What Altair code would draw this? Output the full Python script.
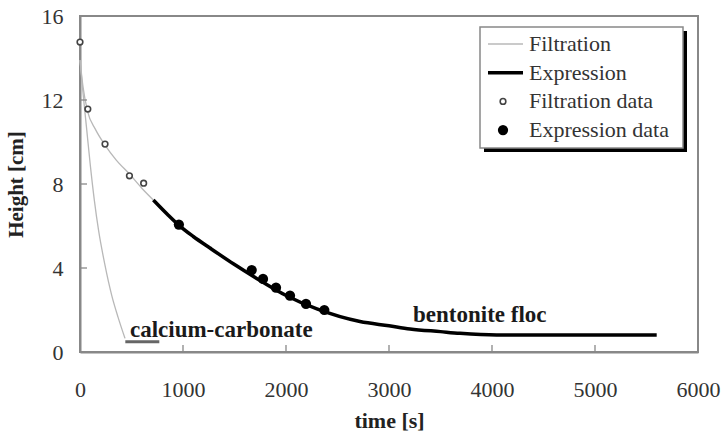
import altair as alt
import pandas as pd

# ---------------- data ----------------
# calcium-carbonate filtration model curve (thin grey)
caco3_filt_t = [0, 30, 65, 100, 140, 180, 240, 308, 370, 437]
caco3_filt_h = [13.9, 12.3, 10.6, 8.9, 7.2, 5.8, 4.2, 2.7, 1.65, 0.65]
# calcium-carbonate expression (short flat segment)
caco3_expr_t = [440, 770]
caco3_expr_h = [0.49, 0.49]
# bentonite floc filtration model curve (thin grey)
bent_filt_t = [0, 30, 74, 150, 243, 350, 485, 600, 712]
bent_filt_h = [13.9, 12.6, 11.45, 10.6, 9.85, 9.15, 8.45, 7.8, 7.24]
# bentonite floc expression model curve (thick black)
bent_expr_t = [712, 850, 964, 1100, 1262, 1489, 1700, 2006, 2300, 2718, 3000, 3204, 3500, 3689, 4045, 5599]
bent_expr_h = [7.24, 6.55, 6.02, 5.5, 4.95, 4.2, 3.55, 2.68, 2.05, 1.45, 1.25, 1.1, 0.97, 0.89, 0.81, 0.81]
# measured points
filt_data_t = [0, 76, 243, 480, 618]
filt_data_h = [14.76, 11.57, 9.9, 8.39, 8.04]
expr_data_t = [960, 1667, 1777, 1903, 2039, 2194, 2372]
expr_data_h = [6.07, 3.9, 3.48, 3.06, 2.68, 2.29, 2.0]

x_ticks = [0, 1000, 2000, 3000, 4000, 5000, 6000]
y_ticks = [0, 4, 8, 12, 16]
inner_x_ticks = [1000, 2000, 3000, 4000, 5000]
inner_y_ticks = [4, 8, 12]

anno_text = ["calcium-carbonate", "bentonite floc"]
anno_t = [485, 3233]
anno_h = [0.71, 1.44]

legend_labels = ["Filtration", "Expression", "Filtration data", "Expression data"]

# ---------------- chart ----------------
W, H = 618, 336
FONT = "Liberation Serif"
xs = alt.Scale(domain=[0, 6000], nice=False, zero=False)
ys = alt.Scale(domain=[0, 16], nice=False, zero=False)

def curve(t, h, name):
    return pd.DataFrame({"t": t, "h": h, "series": name})

filt_df = pd.concat([curve(caco3_filt_t, caco3_filt_h, "c"), curve(bent_filt_t, bent_filt_h, "b")])

x_axis = alt.Axis(values=x_ticks, ticks=False, grid=False, labelPadding=27, labelFlush=False,
                  labelOverlap=False, format="d", title="time [s]", titlePadding=10,
                  labelFont=FONT, titleFont=FONT)
y_axis = alt.Axis(values=y_ticks, ticks=False, grid=False, labelPadding=17, labelFlush=False,
                  labelOverlap=False, format="d", title="Height [cm]", titlePadding=15,
                  labelFont=FONT, titleFont=FONT, titleFontSize=21)

filt_lines = alt.Chart(filt_df).mark_line(color="#b8b8b8", strokeWidth=1.3, interpolate="monotone").encode(
    x=alt.X("t:Q", scale=xs, axis=x_axis),
    y=alt.Y("h:Q", scale=ys, axis=y_axis),
    detail="series:N",
)

caco3_expr = alt.Chart(curve(caco3_expr_t, caco3_expr_h, "ce")).mark_line(
    color="#666666", strokeWidth=3).encode(x=alt.X("t:Q", scale=xs), y=alt.Y("h:Q", scale=ys))

bent_expr = alt.Chart(curve(bent_expr_t, bent_expr_h, "be")).mark_line(
    color="black", strokeWidth=3.5, interpolate="monotone").encode(
    x=alt.X("t:Q", scale=xs), y=alt.Y("h:Q", scale=ys))

filt_pts = alt.Chart(pd.DataFrame({"t": filt_data_t, "h": filt_data_h})).mark_point(
    shape="circle", filled=False, size=32, stroke="#444444", strokeWidth=1.6, fill="white", fillOpacity=1,
    opacity=1).encode(x=alt.X("t:Q", scale=xs), y=alt.Y("h:Q", scale=ys))

expr_pts = alt.Chart(pd.DataFrame({"t": expr_data_t, "h": expr_data_h})).mark_point(
    shape="circle", filled=True, size=105, color="black", opacity=1).encode(
    x=alt.X("t:Q", scale=xs), y=alt.Y("h:Q", scale=ys))

annos = alt.Chart(pd.DataFrame({"t": anno_t, "h": anno_h, "txt": anno_text})).mark_text(
    align="left", baseline="alphabetic", font=FONT, fontWeight="bold", fontSize=23, color="#1a1a1a").encode(
    x=alt.X("t:Q", scale=xs), y=alt.Y("h:Q", scale=ys), text="txt:N")

# inward tick marks
xt = alt.Chart(pd.DataFrame({"t": inner_x_ticks})).mark_rule(color="#888888", strokeWidth=1.3).encode(
    x=alt.X("t:Q", scale=xs), y=alt.value(H), y2=alt.value(H - 7))
yt = alt.Chart(pd.DataFrame({"h": inner_y_ticks})).mark_rule(color="#888888", strokeWidth=1.3).encode(
    y=alt.Y("h:Q", scale=ys), x=alt.value(0), x2=alt.value(7))

# legend box
one = pd.DataFrame({"a": [0]})
LX0, LX1, LY0, LY1 = 400, 603, 11, 132
shadow = alt.Chart(one).mark_rect(color="black").encode(
    x=alt.value(LX0 + 4), x2=alt.value(LX1 + 4), y=alt.value(LY0 + 4), y2=alt.value(LY1 + 4))
box = alt.Chart(one).mark_rect(fill="white", stroke="#888888", strokeWidth=1.5).encode(
    x=alt.value(LX0), x2=alt.value(LX1), y=alt.value(LY0), y2=alt.value(LY1))

legend_layers = [shadow, box]
row_y = [28 + 28.7 * i for i in range(len(legend_labels))]
legend_layers.append(alt.Chart(one).mark_rule(color="#b8b8b8", strokeWidth=1.3).encode(
    x=alt.value(408), x2=alt.value(443), y=alt.value(row_y[0])))
legend_layers.append(alt.Chart(one).mark_rule(color="black", strokeWidth=3.5).encode(
    x=alt.value(408), x2=alt.value(443), y=alt.value(row_y[1])))
legend_layers.append(alt.Chart(one).mark_point(shape="circle", filled=False, size=32, stroke="#444444",
                                               strokeWidth=1.6, opacity=1).encode(
    x=alt.value(423), y=alt.value(row_y[2])))
legend_layers.append(alt.Chart(one).mark_point(shape="circle", filled=True, size=105, color="black",
                                               opacity=1).encode(
    x=alt.value(423), y=alt.value(row_y[3])))
for lab, yy in zip(legend_labels, row_y):
    legend_layers.append(alt.Chart(one).mark_text(
        align="left", baseline="middle", font=FONT, fontSize=22, color="#333333", text=lab).encode(
        x=alt.value(449), y=alt.value(yy)))

chart = alt.layer(filt_lines, caco3_expr, bent_expr, filt_pts, expr_pts, annos, xt, yt,
                  *legend_layers).properties(
    width=W, height=H,
    autosize=alt.AutoSizeParams(type="none"),
    padding={"left": 80, "top": 16, "right": 24, "bottom": 80},
    background="white",
).configure(
    font=FONT
).configure_view(
    stroke="#888888", strokeWidth=2
).configure_axis(
    domainColor="#888888", domainWidth=2,
    labelFont=FONT, labelFontSize=22, labelColor="#333333",
    titleFont=FONT, titleFontSize=22, titleFontWeight="bold", titleColor="#222222",
)

chart.save("out.html", embed_options={"renderer": "svg", "actions": False})
